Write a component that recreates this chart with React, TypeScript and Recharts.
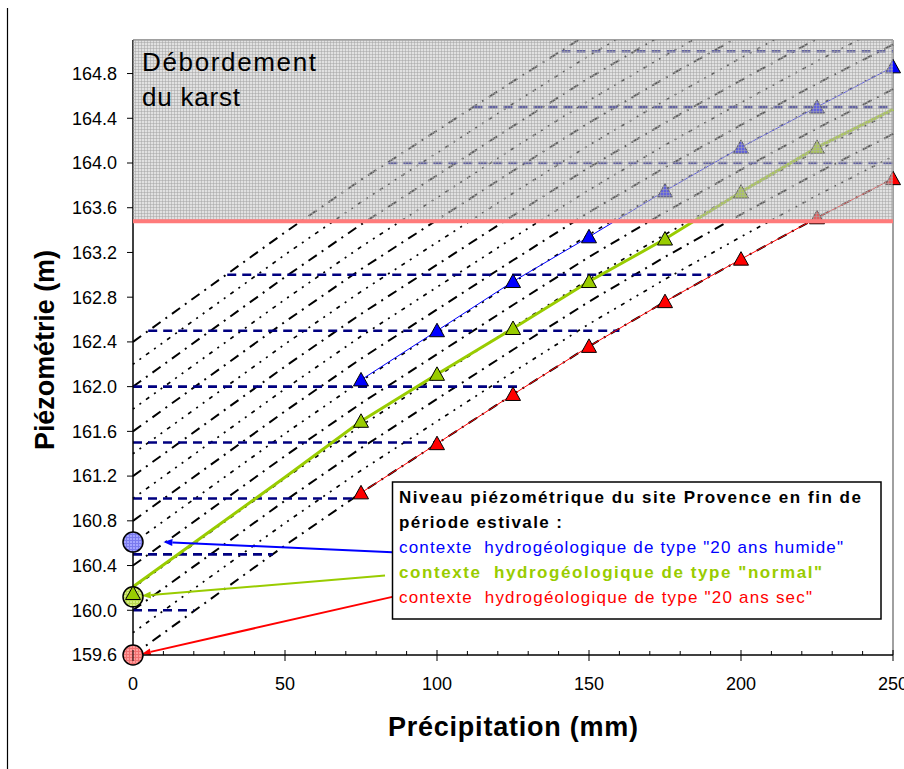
import {
  ComposedChart,
  Line,
  Scatter,
  XAxis,
  YAxis,
  ReferenceArea,
  ReferenceLine,
  ReferenceDot,
} from "recharts";

// rain steps (mm) on which the family of level curves is read
const RAIN_STEPS = [0, 25, 50, 75, 100, 125, 150, 175, 200, 225, 250];
// rise of a curve above its starting level (m)
const CURVE_RISE = [0, 0.49, 0.98, 1.45, 1.89, 2.33, 2.76, 3.16, 3.54, 3.91, 4.26];
// starting level of each curve at 0 mm (m)
const CURVE_START = [
  159.6, 159.8, 160.0, 160.2, 160.4, 160.6, 160.8, 161.0, 161.2, 161.4, 161.6, 161.8, 162.0, 162.2, 162.4,
];

// end of dry season scenarios
const SEASON_RAIN = [75, 100, 125, 150, 175, 200, 225, 250];
const WET_LEVELS = [162.06, 162.5, 162.94, 163.34, 163.75, 164.14, 164.5, 164.86];
const DRY_LEVELS = [161.05, 161.49, 161.93, 162.36, 162.76, 163.14, 163.51, 163.86];
const NORMAL_LINE = [160.21, 160.7, 161.19, 161.69, 162.11, 162.52, 162.94, 163.32, 163.74, 164.14, 164.48];
const NORMAL_MARK_RAIN = [0, 75, 100, 125, 150, 175, 200, 225];
const NORMAL_MARK_LEVELS = [160.15, 161.69, 162.11, 162.52, 162.94, 163.32, 163.74, 164.14];

// starting levels (circles at 0 mm)
const START_LEVELS = [160.61, 160.12, 159.6];

// dashed reference levels and their extent (mm)
const GUIDE_LEVELS = [160.0, 160.5, 161.0, 161.5, 162.0, 162.5, 163.0, 164.0, 164.5, 165.0];
const GUIDE_FROM = [0, 0, 0, 0, 0, 5, 31, 84, 112, 141];
const GUIDE_TO = [20, 46, 74, 100, 128, 160, 190, 250, 250, 250];

const OVERFLOW_LEVEL = 163.48;
const Y_MIN = 159.6;
const Y_MAX = 165.1;
const Y_TICKS = [159.6, 160.0, 160.4, 160.8, 161.2, 161.6, 162.0, 162.4, 162.8, 163.2, 163.6, 164.0, 164.4, 164.8];
const X_TICKS = [0, 10, 20, 30, 40, 50, 60, 70, 80, 90, 100, 110, 120, 130, 140, 150, 160, 170, 180, 190, 200, 210, 220, 230, 240, 250];

// arrows from the note box to the circles
const ARROWS = [
  { from: [85.3, 160.52], to: [10.0, 160.61], color: "#0000ff" },
  { from: [82.9, 160.31], to: [2.9, 160.13], color: "#99cc00" },
  { from: [85.3, 160.12], to: [2.9, 159.61], color: "#ff0000" },
];

const FONT = '"Liberation Sans", Arial, Helvetica, sans-serif';
const W = 904;
const H = 769;
const PLOT_BOTTOM = 655;

const BLUE = "#0000ff";
const GREEN = "#99cc00";
const RED = "#ff0000";

const curves = CURVE_START.map((start) =>
  RAIN_STEPS.map((x, i) => ({ x, y: +(start + CURVE_RISE[i]).toFixed(2) }))
);
const wet = SEASON_RAIN.map((x, i) => ({ x, y: WET_LEVELS[i] }));
const dry = SEASON_RAIN.map((x, i) => ({ x, y: DRY_LEVELS[i] }));
const normalLine = RAIN_STEPS.map((x, i) => ({ x, y: NORMAL_LINE[i] }));
const normalMarks = NORMAL_MARK_RAIN.map((x, i) => ({ x, y: NORMAL_MARK_LEVELS[i] }));

const triangle = (fill: string) => (p: any) => {
  const { cx, cy } = p;
  if (cx == null || cy == null) return <g />;
  return (
    <polygon
      points={`${cx},${cy - 7.5} ${cx - 7.5},${cy + 6} ${cx + 7.5},${cy + 6}`}
      fill={fill}
      stroke="#000"
      strokeWidth={1}
    />
  );
};

const XTick = (props: any) => {
  const { payload } = props;
  const x = payload.coordinate;
  const v = payload.value;
  const major = v % 50 === 0;
  return (
    <g>
      <line x1={x} x2={x} y1={PLOT_BOTTOM - (major ? 5 : 4)} y2={PLOT_BOTTOM + (major ? 6 : 0)} stroke="#000" />
      {major && (
        <text x={x} y={PLOT_BOTTOM + 35} textAnchor="middle" fontSize={18} fontFamily={FONT} fill="#000">
          {v}
        </text>
      )}
    </g>
  );
};

const arrowShape = (color: string) => (p: any) => {
  const { x1, y1, x2, y2 } = p;
  const ang = Math.atan2(y2 - y1, x2 - x1);
  const len = 9;
  const half = 3.5;
  const bx = x2 - len * Math.cos(ang);
  const by = y2 - len * Math.sin(ang);
  const px = -Math.sin(ang) * half;
  const py = Math.cos(ang) * half;
  return (
    <g>
      <line x1={x1} y1={y1} x2={bx} y2={by} stroke={color} strokeWidth={2} />
      <polygon points={`${x2},${y2} ${bx + px},${by + py} ${bx - px},${by - py}`} fill={color} />
    </g>
  );
};

function gridPattern(id: string, base: string, line: string, opacity = 1) {
  return (
    <pattern id={id} width={3} height={3} patternUnits="userSpaceOnUse">
      <rect width={3} height={3} fill={base} fillOpacity={opacity} />
      <path d="M0 0.5H3M0.5 0V3" stroke={line} strokeWidth={1} strokeOpacity={opacity} />
    </pattern>
  );
}

const NOTE_LINES = [
  { text: "Niveau piézométrique du site Provence en fin de", color: "#000", bold: true, len: 462 },
  { text: "période estivale :", color: "#000", bold: true, len: 163 },
  { text: 'contexte  hydrogéologique de type "20 ans humide"', color: BLUE, bold: false, len: 444 },
  { text: 'contexte  hydrogéologique de type "normal"', color: GREEN, bold: true, len: 423 },
  { text: 'contexte  hydrogéologique de type "20 ans sec"', color: RED, bold: false, len: 413 },
];

export default function App() {
  return (
    <div style={{ position: "absolute", left: 0, top: 0, width: W, height: H, background: "#fff", overflow: "hidden" }}>
      <ComposedChart width={W} height={H} margin={{ top: 40, right: 11, left: 0, bottom: 0 }}>
        <defs>
          {gridPattern("karst", "#c4c4c4", "#a4a4a4", 0.5)}
          {gridPattern("wetFill", "#a4a4ff", "#7a7aee")}
          {gridPattern("normalFill", "#d6ec80", "#b8d850")}
          {gridPattern("dryFill", "#ff9c9c", "#f07070")}
        </defs>
        <XAxis
          type="number"
          dataKey="x"
          domain={[0, 250]}
          ticks={X_TICKS}
          interval={0}
          height={H - PLOT_BOTTOM}
          tickLine={false}
          axisLine={{ stroke: "#000", strokeWidth: 1.5 }}
          tick={XTick}
        />
        <YAxis
          type="number"
          domain={[Y_MIN, Y_MAX]}
          allowDataOverflow
          ticks={Y_TICKS}
          interval={0}
          width={133}
          tickSize={6}
          tickMargin={10}
          tickFormatter={(v: number) => v.toFixed(1)}
          tick={{ fontSize: 18, fill: "#000", fontFamily: FONT }}
          tickLine={{ stroke: "#000" }}
          axisLine={{ stroke: "#000", strokeWidth: 1.5 }}
        />
        <ReferenceLine y={Y_MAX} stroke="#808080" strokeWidth={1.5} />
        <ReferenceLine x={250} stroke="#808080" strokeWidth={1.5} />

        {curves.map((c, i) => (
          <Line
            key={`c${i}`}
            data={c}
            dataKey="y"
            type="linear"
            stroke="#000"
            strokeWidth={i % 2 === 0 ? 2 : 1.7}
            strokeDasharray={i % 2 === 0 ? "10 6 2 6" : "2 6 2 6 4 6"}
            dot={false}
            activeDot={false}
            isAnimationActive={false}
          />
        ))}

        {GUIDE_LEVELS.map((lv, i) => (
          <ReferenceLine
            key={`g${i}`}
            segment={[
              { x: GUIDE_FROM[i], y: lv },
              { x: GUIDE_TO[i], y: lv },
            ]}
            stroke="#000080"
            strokeWidth={2.6}
            strokeDasharray="9 6"
          />
        ))}

        <Line data={wet} dataKey="y" type="linear" stroke={BLUE} strokeWidth={1} dot={false} activeDot={false} isAnimationActive={false} />
        <Line data={dry} dataKey="y" type="linear" stroke={RED} strokeWidth={1} dot={false} activeDot={false} isAnimationActive={false} />
        <Line data={normalLine} dataKey="y" type="linear" stroke={GREEN} strokeWidth={3} dot={false} activeDot={false} isAnimationActive={false} />

        {ARROWS.map((a, i) => (
          <ReferenceLine
            key={`a${i}`}
            segment={[
              { x: a.from[0], y: a.from[1] },
              { x: a.to[0], y: a.to[1] },
            ]}
            stroke={a.color}
            ifOverflow="visible"
            shape={arrowShape(a.color)}
          />
        ))}

        <ReferenceDot x={0} y={START_LEVELS[0]} r={10} fill="url(#wetFill)" stroke="#000" strokeWidth={1.5} ifOverflow="visible" />
        <ReferenceDot x={0} y={START_LEVELS[1]} r={10} fill="url(#normalFill)" stroke="#000" strokeWidth={1.5} ifOverflow="visible" />
        <ReferenceDot x={0} y={START_LEVELS[2]} r={10} fill="url(#dryFill)" stroke="#000" strokeWidth={1.5} ifOverflow="visible" />

        <Scatter data={wet} dataKey="y" shape={triangle(BLUE)} isAnimationActive={false} />
        <Scatter data={normalMarks} dataKey="y" shape={triangle(GREEN)} isAnimationActive={false} />
        <Scatter data={dry} dataKey="y" shape={triangle(RED)} isAnimationActive={false} />

        <ReferenceArea
          x1={0}
          x2={250}
          y1={OVERFLOW_LEVEL}
          y2={Y_MAX}
          fill="url(#karst)"
          fillOpacity={1}
          stroke="none"
          {...({ zIndex: 700 } as any)}
        />
        <ReferenceLine y={OVERFLOW_LEVEL} stroke="#ff7b7b" strokeWidth={4} {...({ zIndex: 800 } as any)} />
      </ComposedChart>

      <svg width={W} height={H} style={{ position: "absolute", left: 0, top: 0, pointerEvents: "none" }}>
        <line x1={7.5} x2={7.5} y1={8} y2={H} stroke="#000" strokeWidth={1.2} />
        <text x={142} y={71} fontSize={26} fontFamily={FONT} fill="#000" textLength={174} lengthAdjust="spacing">
          Débordement
        </text>
        <text x={142} y={106} fontSize={26} fontFamily={FONT} fill="#000" textLength={98} lengthAdjust="spacing">
          du karst
        </text>
        <text
          transform="translate(53.5,350) rotate(-90)"
          textAnchor="middle"
          fontSize={27}
          fontWeight="bold"
          fontFamily={FONT}
          fill="#000"
          textLength={200}
          lengthAdjust="spacing"
        >
          Piézométrie (m)
        </text>
        <text
          x={513}
          y={736}
          textAnchor="middle"
          fontSize={27}
          fontWeight="bold"
          fontFamily={FONT}
          fill="#000"
          textLength={250}
          lengthAdjust="spacing"
        >
          Précipitation (mm)
        </text>
        <rect x={392.5} y={482} width={488.5} height={137} fill="#fff" stroke="#000" strokeWidth={1.5} />
        {NOTE_LINES.map((l, i) => (
          <text
            key={i}
            x={399}
            y={502.5 + i * 25.2}
            fontSize={17}
            fontWeight={l.bold ? "bold" : "normal"}
            fontFamily={FONT}
            fill={l.color}
            textLength={l.len}
            lengthAdjust="spacing"
            style={{ whiteSpace: "pre" }}
          >
            {l.text}
          </text>
        ))}
      </svg>
    </div>
  );
}
